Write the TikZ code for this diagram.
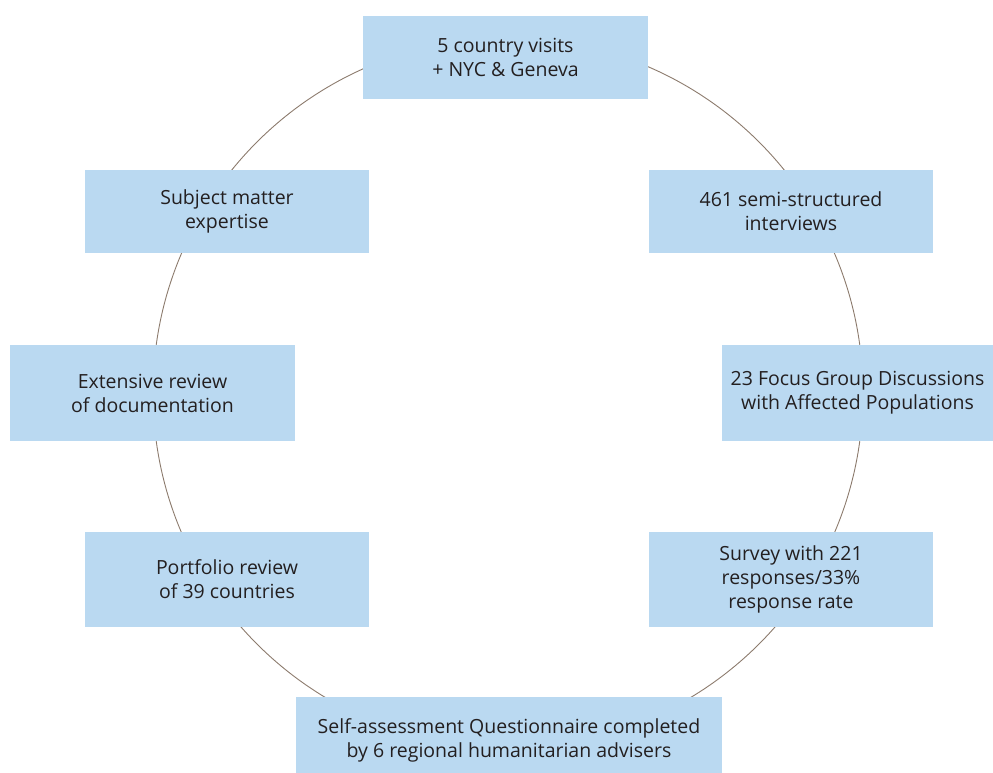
\documentclass[tikz,border=0pt]{standalone}
\usepackage{fontspec}
\setmainfont{Open Sans}
\definecolor{boxblue}{HTML}{BAD9F1}
\definecolor{ringcol}{HTML}{8C7B6D}
\definecolor{txt}{HTML}{231F20}
\begin{document}
\begin{tikzpicture}[x=1pt,y=-1pt,
  box/.style={fill=boxblue,draw=none,inner sep=0pt,align=center,text=txt,
    font=\fontsize{19.5}{24}\selectfont},
  ring/.style={draw=ringcol,line width=0.9pt}]
\useasboundingbox (0,0) rectangle (993,772);
\draw[ring] (508,393) circle[radius=355];
\node[box,minimum width=285,minimum height=83] (visits) at (505.5,57.5) {5 country visits\\+ NYC \& Geneva};
\node[box,minimum width=284,minimum height=83] (sme) at (227,211.5) {Subject matter\\expertise};
\node[box,minimum width=284,minimum height=83] (interviews) at (791,211.5) {461 semi-structured\\interviews};
\node[box,minimum width=285,minimum height=96] (docs) at (152.5,393) {Extensive review\\of documentation};
\node[box,minimum width=271,minimum height=96] (fgd) at (857.5,393) {23 Focus Group Discussions\\with Affected Populations};
\node[box,minimum width=284,minimum height=95] (portfolio) at (227,579.5) {Portfolio review\\of 39 countries};
\node[box,minimum width=284,minimum height=95] (survey) at (791,579.5) {Survey with 221\\responses/33\%\\response rate};
\node[box,minimum width=426,minimum height=87] (self) at (509,740.5) {Self-assessment Questionnaire completed\\by 6 regional humanitarian advisers};
\end{tikzpicture}
\end{document}
